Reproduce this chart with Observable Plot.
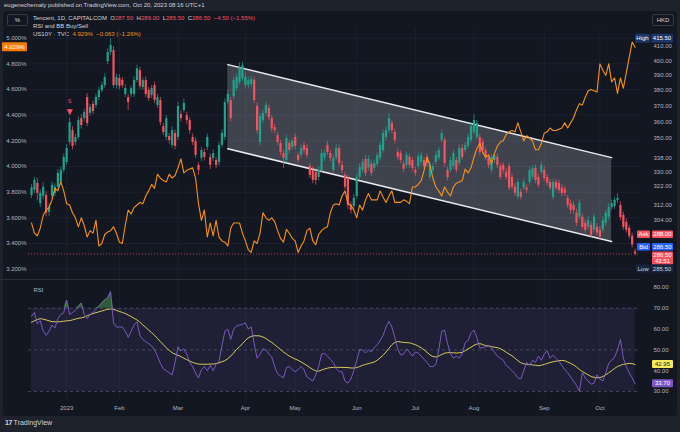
<!DOCTYPE html>
<html><head><meta charset="utf-8">
<script src="https://cdn.jsdelivr.net/npm/d3@7"></script>
<script src="https://cdn.jsdelivr.net/npm/@observablehq/plot@0.6"></script>
<style>
html,body{margin:0;padding:0;background:#1e222d;}
#wrap{position:relative;width:680px;height:432px;background:#1e222d;overflow:hidden;font-family:"Liberation Sans",Arial,sans-serif;color:#d1d4dc;}
#frame{position:absolute;left:3px;top:11px;width:674px;height:405px;background:#131722;border-radius:3px;}
.abs{position:absolute;white-space:pre;}
.r{color:#f7525f}.o{color:#f7931a}
.btn{position:absolute;border:1px solid #363a45;border-radius:2px;font-size:6px;color:#d1d4dc;text-align:center;line-height:10px;}
</style></head><body>
<div id="wrap">
  <div id="frame"></div>
  <div class="abs" style="left:4px;top:2px;font-size:6px;color:#d1d4dc;">eugenechemaly published on TradingView.com, Oct 20, 2023 08:16 UTC+1</div>
  <div class="btn" style="left:7px;top:14px;width:19px;height:10px;">%</div>
  <div class="btn" style="left:652px;top:14px;width:20px;height:10px;">HKD</div>
  <div class="abs" style="left:33px;top:14.5px;font-size:6px;color:#d1d4dc;">Tencent, 1D, CAPITALCOM  O<span class="r">287.50</span>  H<span class="r">289.00</span>  L<span class="r">285.50</span>  C<span class="r">286.50  −4.50 (−1.55%)</span></div>
  <div class="abs" style="left:33px;top:23px;font-size:6px;color:#d1d4dc;">RSI and BB Buy/Sell</div>
  <div class="abs" style="left:33px;top:31px;font-size:6px;color:#d1d4dc;">US10Y · TVC  <span class="o">4.929%  −0.063 (−1.26%)</span></div>
  <div class="abs" style="left:0;top:278.5px;width:640px;height:1px;background:#2a2e39;"></div>
  <div class="abs" style="left:5px;top:419px;font-size:7px;color:#d1d4dc;"><b style="letter-spacing:-0.5px">17</b> TradingView</div>
</div>
<script>
// ---------- data ----------
const opens=[317.0,319.8,323.7,312.5,316.5,317.0,307.9,316.5,318.1,321.5,324.2,331.0,335.6,347.4,354.6,347.4,350.4,362.0,362.0,375.4,365.4,371.0,370.3,375.4,380.0,383.3,399.5,405.8,407.2,383.3,388.0,386.6,377.4,375.4,377.4,377.4,386.6,393.3,382.0,386.6,380.0,376.7,383.3,370.3,373.5,357.0,350.4,351.0,345.6,352.8,350.4,364.6,367.1,363.9,360.8,350.4,348.0,333.9,338.0,341.4,344.4,338.5,338.0,336.7,335.6,345.6,350.4,372.2,373.5,376.0,381.3,385.3,387.9,383.3,383.3,384.0,386.6,369.7,347.4,360.8,365.2,368.4,362.0,356.4,351.6,346.8,340.8,336.7,346.8,344.4,350.4,339.7,339.7,345.6,343.8,333.2,331.0,329.9,327.0,331.0,338.0,345.6,340.8,331.0,338.0,343.8,333.9,328.2,326.5,311.6,311.0,316.5,327.0,331.0,337.3,332.2,334.5,332.2,334.5,338.0,342.6,350.4,354.6,359.0,353.4,341.4,340.8,334.5,333.9,338.6,336.7,331.0,333.2,335.6,336.7,338.6,327.0,331.0,335.6,338.0,348.6,348.6,331.0,331.0,333.2,336.7,335.0,343.8,342.6,345.0,348.6,353.4,350.4,350.4,347.4,342.6,338.0,331.0,336.7,338.6,333.2,333.9,329.9,333.2,327.0,321.5,316.0,318.7,321.0,321.0,324.2,327.0,332.2,327.0,329.9,331.0,327.0,324.2,316.0,324.2,323.7,321.0,320.4,315.4,312.5,311.6,307.4,305.3,305.3,302.1,300.0,301.0,298.5,300.0,298.5,298.5,302.1,305.3,310.5,311.0,314.3,311.6,306.3,302.6,299.5,295.4,287.5];
const highs=[323.0,327.0,326.5,320.0,324.0,319.0,312.5,324.5,323.5,331.5,333.0,340.5,346.0,362.5,357.0,352.5,363.0,364.5,368.0,378.0,371.0,373.0,377.5,382.0,385.5,391.0,408.5,415.5,410.0,391.0,390.5,388.5,384.0,377.5,383.0,389.0,397.0,395.5,388.5,389.0,382.0,383.5,385.5,377.5,375.5,359.0,364.0,353.0,357.0,355.0,372.5,367.0,374.5,366.0,362.5,352.5,350.0,335.5,344.5,343.5,352.5,340.5,343.0,338.5,347.5,355.0,374.5,380.0,375.5,389.0,391.0,398.5,399.0,391.0,389.0,389.5,389.0,372.0,365.5,367.5,372.5,370.5,364.0,358.5,353.5,348.5,342.5,352.0,348.5,350.0,352.5,341.5,346.0,347.5,346.0,335.0,333.0,332.0,333.0,343.0,343.0,348.0,342.5,340.0,346.0,346.0,336.0,330.0,328.5,313.5,317.5,329.0,335.0,337.5,339.5,339.5,336.5,337.0,341.5,347.5,355.0,357.0,365.0,361.0,355.5,343.5,342.5,336.5,341.5,340.5,338.5,333.0,341.0,341.5,338.5,340.5,336.0,335.0,342.0,344.5,355.0,350.5,333.0,338.5,343.0,338.5,346.0,346.0,347.5,352.5,359.5,364.5,361.0,352.5,349.5,344.5,340.0,340.5,341.5,340.5,335.0,335.5,332.0,335.0,329.0,323.5,326.0,320.5,326.0,323.0,333.0,334.0,334.0,329.0,336.0,333.0,329.0,326.0,326.0,326.0,325.5,323.0,322.0,317.0,314.5,313.5,309.5,314.5,307.0,304.0,305.5,303.0,307.0,302.0,300.5,305.5,309.0,312.5,314.5,316.0,318.0,313.5,308.0,304.5,301.0,297.0,289.0];
const lows=[315.3,318.0,314.0,310.5,314.5,305.5,305.5,315.0,316.5,320.0,322.5,329.5,334.0,345.6,343.0,345.5,349.0,355.5,360.0,357.0,363.5,364.5,368.5,373.5,378.5,381.5,397.5,403.6,381.5,381.0,380.5,381.5,375.5,367.1,375.5,375.5,385.0,380.5,380.0,375.5,373.0,374.8,371.5,368.5,357.5,351.6,348.5,346.5,344.0,343.0,348.5,360.0,365.5,358.5,352.5,345.5,338.0,328.2,336.0,336.5,342.5,331.5,336.0,332.0,333.5,344.0,348.5,370.5,360.0,374.0,379.5,383.5,386.0,381.5,381.5,382.0,371.5,352.5,345.5,359.0,363.5,360.5,353.5,352.5,345.5,339.5,332.0,335.0,340.5,342.5,343.0,335.0,338.0,340.5,338.0,326.5,323.5,322.6,325.0,329.5,336.0,339.5,336.0,329.5,336.5,333.0,329.0,320.0,309.5,307.0,309.0,315.0,325.5,329.5,327.5,330.5,327.5,330.5,333.0,336.5,341.0,348.5,353.0,352.5,346.5,336.5,335.0,329.5,332.0,332.0,330.5,327.5,331.5,334.0,331.5,333.0,325.5,329.5,334.0,336.5,347.0,333.0,325.0,329.5,331.5,329.5,333.5,337.0,341.0,343.5,347.0,352.0,349.0,339.5,341.0,336.5,332.0,329.5,335.0,332.0,325.5,329.0,325.5,319.5,320.0,316.5,314.5,314.5,319.5,318.0,322.5,325.5,323.5,321.0,328.5,325.0,322.0,319.5,314.5,319.5,318.0,316.5,316.5,310.0,307.0,307.0,300.5,303.5,298.5,297.0,298.5,294.5,297.0,295.5,293.5,297.0,300.5,303.5,309.0,309.5,312.5,303.5,298.5,297.0,294.0,289.5,285.5];
const closes=[321.2,325.3,318.1,318.1,321.5,307.4,310.5,322.6,321.5,329.3,331.0,338.4,343.8,359.5,345.0,350.4,360.8,357.7,365.8,358.9,369.0,366.5,375.4,380.0,383.3,388.6,405.8,410.7,383.3,388.6,382.6,383.3,381.3,372.2,381.3,386.6,394.6,382.6,386.6,377.4,374.8,381.3,373.5,375.4,359.5,353.4,362.0,348.6,354.6,345.0,369.7,362.0,371.6,360.8,354.6,347.4,339.7,331.0,342.6,338.6,350.4,333.9,340.8,333.9,345.6,352.8,372.2,377.4,362.0,386.6,388.6,395.3,396.7,388.6,386.6,387.3,373.5,354.6,363.3,365.2,370.3,362.6,355.6,354.6,347.4,341.4,338.0,349.8,342.6,348.0,345.0,336.7,343.8,342.6,339.7,328.2,325.3,325.3,331.0,340.8,341.0,341.4,338.0,338.0,343.8,335.0,331.0,321.5,311.6,308.9,315.4,326.9,332.7,335.6,329.3,337.3,329.3,335.0,339.7,345.6,352.8,354.6,362.0,354.6,348.6,338.6,336.7,331.6,339.7,333.9,332.2,329.3,339.0,339.7,333.2,335.0,333.9,333.2,339.7,342.6,352.8,335.0,327.0,336.7,340.8,331.0,343.8,338.6,345.6,350.4,357.0,360.8,359.0,341.4,342.6,338.6,333.9,338.6,339.7,333.9,327.0,331.0,327.0,321.0,321.5,318.1,324.2,316.0,324.2,319.8,331.0,332.2,325.3,322.6,333.9,326.4,323.7,321.0,324.2,321.0,319.8,318.1,318.1,311.6,308.9,308.9,302.1,312.7,300.0,298.5,303.6,295.9,305.3,297.0,295.0,303.6,307.4,310.5,312.5,314.3,315.4,305.0,300.0,298.5,295.4,291.0,286.5];
const us10y=[3.56,3.48,3.46,3.52,3.62,3.66,3.68,3.74,3.83,3.81,3.88,3.81,3.71,3.70,3.64,3.60,3.53,3.60,3.54,3.45,3.50,3.48,3.58,3.38,3.40,3.47,3.49,3.50,3.53,3.48,3.41,3.40,3.54,3.66,3.63,3.68,3.70,3.72,3.71,3.77,3.81,3.86,3.83,3.94,3.91,3.89,3.88,3.94,3.91,3.93,3.99,4.06,3.95,3.97,3.98,3.99,3.91,3.71,3.58,3.66,3.45,3.56,3.46,3.58,3.45,3.42,3.41,3.38,3.52,3.56,3.56,3.56,3.48,3.42,3.35,3.33,3.42,3.40,3.48,3.64,3.60,3.58,3.60,3.57,3.50,3.44,3.41,3.51,3.48,3.44,3.42,3.33,3.38,3.42,3.50,3.52,3.42,3.39,3.47,3.50,3.52,3.53,3.64,3.70,3.71,3.70,3.77,3.81,3.71,3.70,3.66,3.60,3.70,3.66,3.74,3.79,3.74,3.74,3.74,3.81,3.76,3.72,3.77,3.81,3.72,3.72,3.72,3.74,3.73,3.71,3.84,3.84,3.86,3.89,3.97,4.07,4.01,3.91,3.84,3.81,3.77,3.84,3.80,3.77,3.84,3.87,3.88,3.89,3.98,3.95,3.99,4.07,4.14,4.18,4.11,4.07,4.09,4.02,4.10,4.16,4.19,4.20,4.25,4.27,4.28,4.27,4.34,4.27,4.20,4.24,4.22,4.20,4.13,4.13,4.18,4.26,4.27,4.30,4.28,4.28,4.29,4.30,4.34,4.30,4.34,4.38,4.44,4.49,4.48,4.54,4.59,4.60,4.59,4.58,4.80,4.75,4.71,4.80,4.66,4.69,4.57,4.69,4.61,4.73,4.85,4.97,4.929];
const rsiValues=[66,68,62.5,64,59,57,59,62,60.5,65,67,67.8,74,67,68,69,71,72.5,67,65,67,68,69.5,71,72.5,74,75,78,63,61,61,61,59,56,59,62,63.5,57,55,54,53,52,50,47,43.5,41,40,39,38,44,51.5,49.5,50.5,48,44,42,39,36.5,40.5,42,40,42.5,40,43,44.5,52,59,60,55,60,61.5,62,62.3,63,60,61,53,46,48,50.5,50,48,46.5,42,38.5,37.5,36.5,41.5,42,40.5,39.5,40.5,42,40.5,37,36,35,38,42,48,48.3,47,45.5,44,41,39.5,39.5,35,34,36,40,45,50,50,48.5,50,49,51,52.5,54.5,57,61,63.8,61,56,50.5,47.5,48,50.5,49,47,49,48.5,47,45.5,44,42,42,43,50,59,59.5,53,48,46,47,46,48,53.5,54.5,58,59.5,56,51,51,51.5,52,51,49,47,46,45,42.5,41.5,40,38.5,36.5,36,40,44,42.5,45,44,47,45,48,49.5,46,47.5,46,44.5,42.5,40.5,39,37,35,33,30,39,36.5,35,33.5,34,38,36,35,39,43.5,45,46.5,50,55,46,42,39,36.5,33.7];
const rsiMAValues=[63.3,64,64.6,65,64.8,64.4,64,63.6,63.5,63.5,63.6,63.8,64,64.1,64.4,64.8,65.2,65.4,65.8,66.4,67,67.5,67.9,68.3,68.7,69.2,69.5,69.7,69.5,69,68.5,68,67.5,66.8,66,65.2,64.4,63.3,62,60.8,59.5,58.3,57,55.5,54,52.5,51,49.8,48.6,48,47.4,46.8,46,45.3,44.6,44,43.5,43.2,43.1,43.1,43.1,43.2,43.2,43.4,43.8,44.3,44.8,45.8,47,48.5,50.3,51.5,53,54.5,55.8,56.5,56.8,56.8,56.7,56.2,55.5,54.5,53.6,52.5,51.3,50.2,49,48,47,46.3,45.6,45,44.2,43.4,42.5,41.5,40.6,39.9,39.8,40.3,40.8,41.2,41.5,41.6,41.6,41.6,41.6,41.5,41.5,41.3,41.3,41.5,42,42.6,43,43.4,43.8,44.2,45,46.2,47.4,49,50.8,52.5,53.6,54,53.8,53.6,53.5,53.4,53,52.5,51.8,51,50,48.8,47.6,46.8,46.6,47,47.8,48.4,48.7,48.7,48.6,48.5,48.6,48.8,49.6,50.5,51.3,52.2,52.8,53,52.6,52,51.9,51.6,51.3,51.1,50.6,49.8,48.9,48,47.2,46,44.8,43.8,43.3,43.1,43,42.8,42.6,42.4,42.6,43,43.5,43.9,44.3,44.6,44.8,44.9,44.8,44.2,43.5,42.8,41.8,40.6,39.6,38.8,38,37.2,36.8,36.6,36.7,37.2,38,39,40,41.1,42,42.6,43,43.3,43.5,43.4,42.95];
const monthTickIdx=[12,30,50,73,90,111,131,151,175,194];
const monthTickLabels=["2023","Feb","Mar","Apr","May","Jun","Jul","Aug","Sep","Oct"];
const priceTicks=[304,312,322,330,338,350,360,370,380,390,400,410];
const yieldTicks=[3.2,3.4,3.6,3.8,4.0,4.2,4.4,4.6,4.8,5.0];
const rsiTicks=[30,40,50,60,70,80];
const rsiLevels=[30,50,70];
const channelIdx=[67,198];
const channelTop=[397.4,338.4];
const channelBottom=[343.6,292.7];
const sellIdx=[13];
const sessionHigh=415.5, sessionLow=285.5, askPrice=288.0, bidPrice=286.5, lastPrice=286.5;
const lastYield=4.929, lastRsi=33.70, lastRsiMA=42.95;

// ---------- tables ----------
const candles=opens.map((o,i)=>({i,o,h:highs[i],l:lows[i],c:closes[i]}));
const yieldRows=us10y.map((v,i)=>({i,v}));
const rsiRows=rsiValues.map((r,i)=>({i,r,m:rsiMAValues[i]}));
const channel=channelIdx.map((i,k)=>({i,top:channelTop[k],bottom:channelBottom[k]}));
const sells=sellIdx.map(i=>candles[i]);

const UP="#1fa38c", DOWN="#f7525f", ORANGE="#f7931a", GRID="#1f2330";
const W=680, MAIN_H=250, MAIN_TOP=28, RSI_TOP=280, RSI_H=118;
const XDOM=[-1.02,207.85];
const FONT="Liberation Sans, Arial, sans-serif";
const baseStyle={background:"transparent",color:"#b2b5be",fontSize:"6px",fontFamily:FONT,overflow:"visible"};
const wrap=document.getElementById("wrap");
function place(el,top,z){el.style.position="absolute";el.style.left="0px";el.style.top=top+"px";el.style.zIndex=z;wrap.appendChild(el);}
function box(svg,x,y,w,h,fill,lines,tcolor,stroke){
  const g=d3.select(svg).append("g").attr("font-family",FONT).attr("font-size",6);
  g.append("rect").attr("x",x).attr("y",y).attr("width",w).attr("height",h).attr("rx",1).attr("fill",fill).attr("stroke",stroke||"none").attr("stroke-width",0.6);
  lines.forEach((t,k)=>g.append("text").attr("x",x+w/2).attr("y",y+h/(lines.length*2)*(2*k+1)).attr("dy","0.35em").attr("text-anchor","middle").attr("fill",tcolor).text(t));
}
function label(svg,x,y,t,fill){
  d3.select(svg).append("text").attr("x",x).attr("y",y).attr("dy","0.35em").attr("font-size",6).attr("font-family",FONT).attr("fill",fill).text(t);
}

// ---------- layer 1: grid + left (US10Y) axis ----------
const grid=Plot.plot({
  width:W,height:MAIN_H,marginLeft:28,marginRight:40,marginTop:0,marginBottom:0,style:baseStyle,
  x:{domain:XDOM,axis:null},
  y:{domain:[3.127,5.0756],axis:null},
  marks:[
    Plot.ruleY(yieldTicks,{stroke:GRID,strokeWidth:0.8}),
    Plot.ruleX(monthTickIdx,{stroke:GRID,strokeWidth:0.8}),
    Plot.axisY(yieldTicks,{anchor:"left",tickSize:0,tickPadding:2,label:null,tickFormat:d=>d.toFixed(3)+"%"})
  ]
});
place(grid,MAIN_TOP,1);

// ---------- layer 2: Tencent price ----------
const price=Plot.plot({
  width:W,height:MAIN_H,marginLeft:28,marginRight:40,marginTop:0,marginBottom:0,style:baseStyle,
  x:{domain:XDOM,axis:null},
  y:{type:"log",domain:[274.6,423.0],axis:null},
  color:{type:"identity"},
  marks:[
    Plot.areaY(channel,{x:"i",y1:"bottom",y2:"top",fill:"#b9bdc9",fillOpacity:0.27}),
    Plot.line(channel,{x:"i",y:"top",stroke:"#e9eaee",strokeWidth:1.5}),
    Plot.line(channel,{x:"i",y:"bottom",stroke:"#e9eaee",strokeWidth:1.5}),
    Plot.ruleY([lastPrice],{stroke:DOWN,strokeWidth:0.7,strokeDasharray:"1,2"}),
    Plot.ruleX(candles,{x:"i",y1:"l",y2:"h",stroke:d=>d.c>=d.o?UP:DOWN,strokeWidth:0.7}),
    Plot.ruleX(candles,{x:"i",y1:"o",y2:"c",stroke:d=>d.c>=d.o?UP:DOWN,strokeWidth:2.2}),
    Plot.text(sells,{x:"i",y:"h",text:()=>"▼",fill:DOWN,fontSize:10,dy:-6}),
    Plot.text(sells,{x:"i",y:"h",text:()=>"S",fill:DOWN,fontSize:5.5,dy:-17}),
    Plot.axisY(priceTicks,{anchor:"right",tickSize:0,tickPadding:13,label:null,textAnchor:"start",tickFormat:d=>d.toFixed(2)})
  ]
});
place(price,MAIN_TOP,2);
{
  const py=v=>price.scale("y").apply(v);
  const yH=py(sessionHigh), yL=py(lastPrice);
  box(price,635,yH-4.5,15,9,"#1c3466",["High"],"#fff");
  box(price,651,yH-4.5,22,9,"#1c3466",[sessionHigh.toFixed(2)],"#fff");
  box(price,637,yL-23,13,7.5,DOWN,["Ask"],"#fff");
  box(price,652,yL-23,21,7.5,DOWN,[askPrice.toFixed(2)],"#fff");
  box(price,637,yL-10.5,13,7.5,"#2962ff",["Bid"],"#fff");
  box(price,652,yL-10.5,21,7.5,"#2962ff",[bidPrice.toFixed(2)],"#fff");
  box(price,652,yL-2,21,13,DOWN,[lastPrice.toFixed(2),"43:51"],"#fff");
  box(price,636,yL+11,14,8,"#172541",["Low"],"#d1d4dc");
  box(price,651,yL+11,22,8,"#172541",[sessionLow.toFixed(2)],"#d1d4dc");
}

// ---------- layer 3: US10Y line ----------
const yl=Plot.plot({
  width:W,height:MAIN_H,marginLeft:28,marginRight:40,marginTop:0,marginBottom:0,style:baseStyle,
  x:{domain:XDOM,axis:null},
  y:{domain:[3.127,5.0756],axis:null},
  marks:[
    Plot.line(yieldRows,{x:"i",y:"v",stroke:ORANGE,strokeWidth:1.1})
  ]
});
place(yl,MAIN_TOP,3);
{
  const yy=yl.scale("y").apply(lastYield);
  box(yl,2,yy-4.5,25,9,"#f57c00",[lastYield.toFixed(3)+"%"],"#fff");
}

// ---------- RSI pane ----------
const rsiPlot=Plot.plot({
  width:W,height:RSI_H+20,marginLeft:28,marginRight:40,marginTop:0,marginBottom:20,style:baseStyle,
  x:{domain:XDOM,axis:null},
  y:{domain:[26.63,83.37],axis:null},
  marks:[
    Plot.ruleX(monthTickIdx,{stroke:GRID,strokeWidth:0.8}),
    Plot.areaY(rsiRows,{x:"i",y1:30,y2:70,fill:"#7e57c2",fillOpacity:0.12}),
    Plot.ruleY(rsiLevels,{stroke:"#787b86",strokeOpacity:0.6,strokeWidth:0.8,strokeDasharray:"3,3"}),
    Plot.areaY(rsiRows,{x:"i",y1:70,y2:d=>Math.max(70,d.r),fill:"#4caf50",fillOpacity:0.45}),
    Plot.areaY(rsiRows,{x:"i",y1:30,y2:d=>Math.min(30,d.r),fill:"#f23645",fillOpacity:0.45}),
    Plot.line(rsiRows,{x:"i",y:"m",stroke:"#d9cc5e",strokeWidth:1}),
    Plot.line(rsiRows,{x:"i",y:"r",stroke:"#8460cc",strokeWidth:0.9}),
    Plot.text(["RSI"],{frameAnchor:"top-left",dx:5,dy:7,fill:"#b2b5be",fontSize:6}),
    Plot.axisY(rsiTicks,{anchor:"right",tickSize:0,tickPadding:13,label:null,textAnchor:"start",tickFormat:d=>d.toFixed(2)}),
    Plot.axisX(monthTickIdx,{anchor:"bottom",tickSize:0,tickPadding:7,label:null,tickFormat:d=>monthTickLabels[monthTickIdx.indexOf(d)]})
  ]
});
place(rsiPlot,RSI_TOP,2);
{
  const ry=v=>rsiPlot.scale("y").apply(v);
  box(rsiPlot,652,ry(lastRsiMA)-4,21,8,"#f5eb5c",[lastRsiMA.toFixed(2)],"#131722");
  box(rsiPlot,652,ry(lastRsi)-4,21,8,"#7e57c2",[lastRsi.toFixed(2)],"#fff");
}
</script>
</body></html>
